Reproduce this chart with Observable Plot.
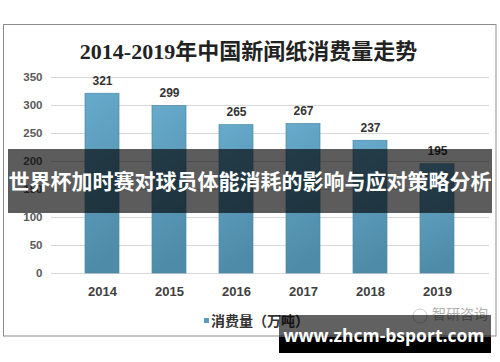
<!DOCTYPE html>
<html>
<head>
<meta charset="utf-8">
<script src="https://cdn.jsdelivr.net/npm/d3@7"></script>
<script src="https://cdn.jsdelivr.net/npm/@observablehq/plot@0.6"></script>
<style>
  html, body { margin: 0; padding: 0; background: #fff; }
  #chart svg { display: block; }
</style>
</head>
<body>
<div id="chart"></div>
<script>
const years = ["2014", "2015", "2016", "2017", "2018", "2019"];
const values = [321, 299, 265, 267, 237, 195];
const yTicks = [0, 50, 100, 150, 200, 250, 300, 350];
const title = "2014-2019年中国新闻纸消费量走势";
const legendLabel = "消费量（万吨）";
const overlayText = "世界杯加时赛对球员体能消耗的影响与应对策略分析";
const watermarkText = "www.zhcm-bsport.com";
const logoText = "智研咨询";

const data = years.map((year, i) => ({year, value: values[i]}));

const numFont = "'Liberation Sans', 'Noto Sans CJK SC', sans-serif";
const cjkFont = "'Noto Sans CJK SC', sans-serif";

const chart = Plot.plot({
  width: 500,
  height: 362,
  marginLeft: 51,
  marginRight: 11,
  marginTop: 77,
  marginBottom: 89,
  style: {background: "#fff", fontFamily: numFont},
  x: {domain: years, padding: 0.49, label: null},
  y: {domain: [0, 350], label: null},
  marks: [
    Plot.ruleY(yTicks, {stroke: "#d9d9d9", strokeWidth: 1}),
    Plot.barY(data, {x: "year", y: "value", fill: "url(#barGrad)", stroke: "#4d89a6", strokeWidth: 0.7}),
    Plot.text(data, {x: "year", y: "value", text: d => String(d.value), dy: -13, lineAnchor: "middle",
      fontSize: 12, fontWeight: "bold", fill: "#333", fontFamily: numFont}),
    Plot.axisX({tickSize: 0, tickPadding: 13, fontSize: 13, fontWeight: "bold", color: "#404040", fontFamily: numFont}),
    Plot.axisY({ticks: yTicks, tickSize: 0, tickPadding: 9, fontSize: 11.5, fontWeight: "bold", color: "#595959", fontFamily: numFont}),
    Plot.text([title], {frameAnchor: "top", dx: -22, dy: -26, lineAnchor: "middle",
      fontSize: 22, fontWeight: 600, fill: "#222", fontFamily: "'Liberation Serif', 'Noto Sans CJK SC', serif"})
  ]
});

const svg = d3.select(chart);

// gradient for bars
const defs = svg.insert("defs", ":first-child");
const grad = defs.append("linearGradient").attr("id", "barGrad").attr("x1", 0).attr("y1", 0).attr("x2", 0.15).attr("y2", 1);
grad.append("stop").attr("offset", "0%").attr("stop-color", "#67aacb");
grad.append("stop").attr("offset", "100%").attr("stop-color", "#4e8ba8");

// chart border
svg.append("rect").attr("x", 3.5).attr("y", 24.5).attr("width", 492.5).attr("height", 311.5)
  .attr("fill", "none").attr("stroke", "#8c8c8c").attr("stroke-width", 1);

// legend
svg.append("rect").attr("x", 204).attr("y", 318).attr("width", 5).attr("height", 5).attr("fill", "#5b9bbd");
svg.append("text").attr("x", 211).attr("y", 321).attr("dy", "0.35em").attr("text-anchor", "start")
  .attr("font-size", 14).attr("font-weight", "bold").attr("fill", "#333").attr("font-family", cjkFont)
  .text(legendLabel);

// logo
svg.append("circle").attr("cx", 420).attr("cy", 316).attr("r", 7).attr("fill", "none").attr("stroke", "#ccc").attr("stroke-width", 1);
svg.append("text").attr("x", 460).attr("y", 314).attr("dy", "0.35em").attr("text-anchor", "middle")
  .attr("font-size", 14).attr("fill", "#b0b0b0").attr("font-family", cjkFont).text(logoText);

// overlay band
svg.append("rect").attr("x", 8).attr("y", 149).attr("width", 484).attr("height", 64).attr("fill", "rgba(0,0,0,0.64)");
svg.append("text").attr("x", 250).attr("y", 182).attr("dy", "0.35em").attr("text-anchor", "middle")
  .attr("font-size", 21).attr("font-weight", "bold").attr("fill", "#fff").attr("font-family", cjkFont)
  .text(overlayText);

// watermark
svg.append("rect").attr("x", 279).attr("y", 315).attr("width", 212).attr("height", 22).attr("fill", "rgba(0,0,0,0.62)");
svg.append("rect").attr("x", 279).attr("y", 337).attr("width", 212).attr("height", 16).attr("fill", "#000");
svg.append("text").attr("x", 384).attr("y", 336).attr("dy", "0.35em").attr("text-anchor", "middle")
  .attr("font-size", 17.5).attr("font-weight", "bold").attr("fill", "#fff").attr("font-family", "'Open Sans', sans-serif")
  .text(watermarkText);

document.getElementById("chart").appendChild(chart);
</script>
</body>
</html>
